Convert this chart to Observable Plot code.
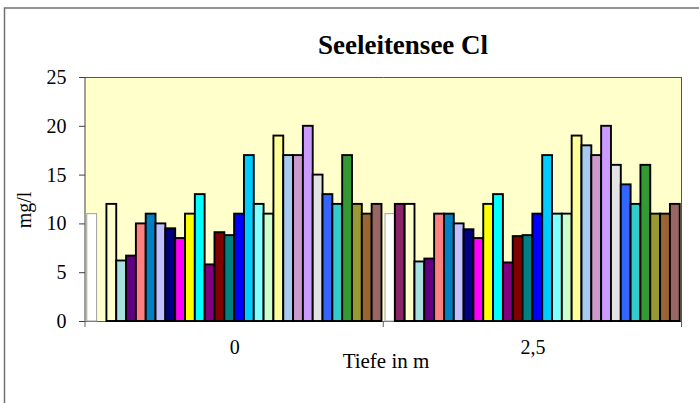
<!DOCTYPE html>
<html><head><meta charset="utf-8">
<script src="https://cdn.jsdelivr.net/npm/d3@7"></script>
<script src="https://cdn.jsdelivr.net/npm/@observablehq/plot@0.6"></script>
<style>html,body{margin:0;padding:0;background:#fff} svg{display:block;overflow:visible}</style>
</head><body><div id="chart"></div>
<script>
// ---- data ----
const depths = ["0", "2,5"];
const seriesIds = d3.range(1, 31);
const seriesColors = [
  "#FFFFFF", "#8B2466", "#FFFFCC", "#A6E1E0", "#600080", "#FF8080", "#0080C0", "#C0C0FF",
  "#000080", "#FF00FF", "#FFFF00", "#00FFFF", "#800080", "#800000", "#008080", "#0000FF",
  "#00CCFF", "#80FFFF", "#CCFFCC", "#FFFF99", "#A6CAF0", "#CC99CC", "#CC99FF", "#E3E3E3",
  "#3366FF", "#33CCCC", "#339933", "#999933", "#996633", "#996666"
];
const values0 = [11, null, 12, 6.2, 6.7, 10, 11, 10, 9.5, 8.5, 11, 13, 5.8, 9.1, 8.8, 11,
                 17, 12, 11, 19, 17, 17, 20, 15, 13, 12, 17, 12, 11, 12];
const values25 = [11, 12, 12, 6.1, 6.4, 11, 11, 10, 9.4, 8.5, 12, 13, 6.0, 8.7, 8.8, 11,
                  17, 11, 11, 19, 18, 17, 20, 16, 14, 12, 16, 11, 11, 12];
const yTicks = [0, 5, 10, 15, 20, 25];
const chartTitle = "Seeleitensee Cl";
const xTitle = "Tiefe in m";
const yTitle = "mg/l";

const table = [];
[values0, values25].forEach((vals, i) => {
  vals.forEach((v, j) => {
    if (v != null) table.push({depth: depths[i], series: seriesIds[j], value: v, color: seriesColors[j]});
  });
});

// ---- layout ----
const W = 699, H = 403, L = 85, R = 681.5, T = 77, B = 321;
const font = "'Liberation Serif', 'Times New Roman', Times, serif";

const svg = Plot.plot({
  width: W, height: H,
  marginLeft: L, marginRight: W - R, marginTop: T, marginBottom: H - B,
  style: {fontFamily: font, fontSize: "20px", color: "#000", background: "transparent", overflow: "visible"},
  fx: {domain: depths, padding: 0, round: false, label: null},
  x: {domain: seriesIds, paddingInner: 0, paddingOuter: 0.18, round: false, axis: null},
  y: {domain: [0, 25], label: null},
  color: {type: "identity"},
  marks: [
    Plot.frame({fill: "#FFFFCC", stroke: null}),
    Plot.ruleY([25], {stroke: "#555", strokeWidth: 1}),
    Plot.ruleY([0], {stroke: "#606060", strokeWidth: 1}),
    Plot.barY(table.filter(d => d.series === 1), {fx: "depth", x: "series", y: "value", fill: "color", stroke: "#a0a0a0", strokeWidth: 1}),
    Plot.barY(table.filter(d => d.series !== 1), {fx: "depth", x: "series", y: "value", fill: "color", stroke: "#000", strokeWidth: 1.9}),
    Plot.axisY({ticks: yTicks, tickSize: 6, tickPadding: 13, stroke: "#404040", label: null}),
    Plot.axisFx({anchor: "bottom", tickSize: 0, tickPadding: 18, label: null})
  ]
});

const s = d3.select(svg);
// axis line and plot border
s.append("line").attr("x1", L).attr("x2", L).attr("y1", T).attr("y2", B).attr("stroke", "#404040");
s.append("line").attr("x1", R).attr("x2", R).attr("y1", T).attr("y2", B).attr("stroke", "#555");
// category boundary ticks
[L, (L + R) / 2, R].forEach(x => {
  s.append("line").attr("x1", x).attr("x2", x).attr("y1", B).attr("y2", B + 6).attr("stroke", "#606060");
});
// outer chart border
s.append("rect").attr("x", 4.5).attr("y", 8).attr("width", 700).attr("height", 400)
  .attr("fill", "none").attr("stroke", "#707070").attr("stroke-width", 1.5);
// titles
s.append("text").attr("x", 403).attr("y", 54).attr("text-anchor", "middle")
  .attr("font-family", font).attr("font-size", 27).attr("font-weight", "bold").attr("fill", "#000").text(chartTitle);
s.append("text").attr("x", 386).attr("y", 368).attr("text-anchor", "middle")
  .attr("font-family", font).attr("font-size", 21).attr("fill", "#000").text(xTitle);
s.append("text").attr("transform", "translate(31,210) rotate(-90)").attr("text-anchor", "middle")
  .attr("font-family", font).attr("font-size", 20).attr("fill", "#000").text(yTitle);

document.getElementById("chart").appendChild(svg);
</script>
</body></html>
